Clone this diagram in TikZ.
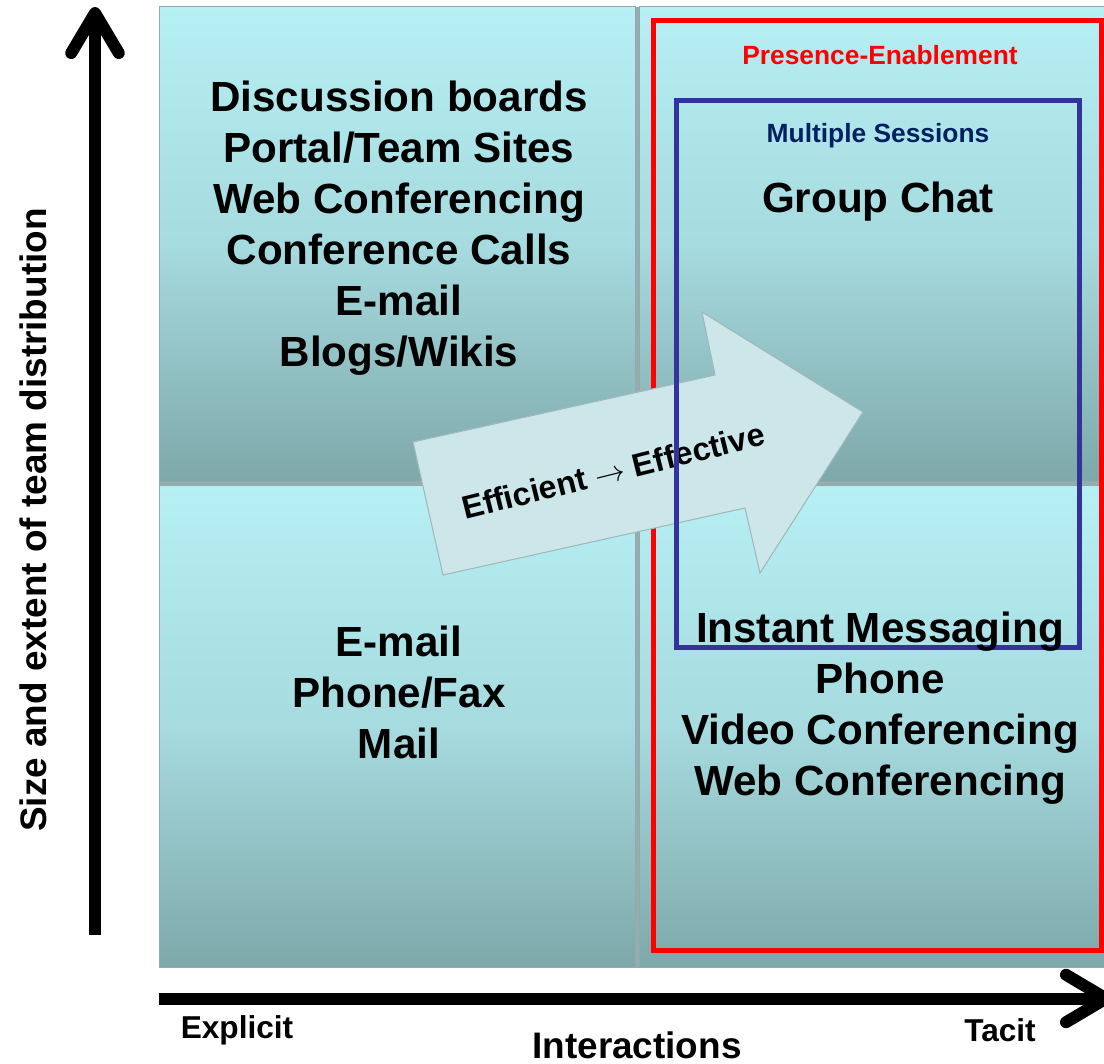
\documentclass[tikz,border=0pt]{standalone}
\usepackage{fontspec}
\setmainfont{Liberation Sans}
\usetikzlibrary{arrows.meta, positioning}
\definecolor{quadtop}{RGB}{182,239,244}
\definecolor{quadmid}{RGB}{166,219,223}
\definecolor{quadbot}{RGB}{126,168,170}
\definecolor{quadedge}{RGB}{140,172,174}
\definecolor{quadgap}{RGB}{150,172,174}
\definecolor{presred}{RGB}{255,0,0}
\definecolor{sessblue}{RGB}{51,51,153}
\definecolor{sessnavy}{RGB}{0,32,96}
\definecolor{shiftfill}{RGB}{204,230,234}
\definecolor{shiftedge}{RGB}{160,184,188}

\begin{document}
\begin{tikzpicture}[
    quad/.style={draw=quadedge, line width=0.5pt, shade, top color=quadtop, bottom color=quadbot, middle color=quadmid, minimum width=9.52cm, inner sep=0pt, anchor=south west},
    big/.style={font=\fontsize{24}{29}\selectfont\bfseries, align=center},
    small/.style={font=\fontsize{15}{18}\selectfont\bfseries},
    axislabel/.style={font=\fontsize{21}{25}\selectfont\bfseries},
    axis/.style={line width=0.24cm, -{Straight Barb[round, length=0.8cm, width=0.95cm]}}
  ]
        \useasboundingbox (0,0) rectangle (22.08,21.26);

        % Quadrants
        \fill[quadgap] (3.18,1.90) rectangle (22.3,21.12);
        \node[quad, minimum height=9.5cm] (quadTL) at (3.18,11.62) {};
        \node[quad, minimum height=9.5cm] (quadTR) at (12.78,11.62) {};
        \node[quad, minimum height=9.64cm] (quadBL) at (3.18,1.90) {};
        \node[quad, minimum height=9.64cm] (quadBR) at (12.78,1.90) {};

        % Presence frame
        \draw[presred, line width=0.1cm] (13.06,2.26) rectangle (22.02,20.84);
        \node[small, text=presred] (presence) at (17.6,20.16) {Presence-Enablement};

        % Shift arrow
        \filldraw[fill=shiftfill, draw=shiftedge, line width=0.6pt] (8.26,12.42) -- (14.30,13.76) -- (14.04,15.02) -- (17.26,13.02) -- (15.20,9.80) -- (14.90,11.10) -- (8.86,9.76) -- cycle;
        \node[font=\fontsize{18.4}{22}\selectfont\bfseries, rotate=14] (shift) at (12.26,11.84) {Efficient $\rightarrow$ Effective};

        % Sessions frame
        \draw[sessblue, line width=0.1cm] (13.52,8.32) rectangle (21.58,19.24);
        \node[small, text=sessnavy] (sessions) at (17.56,18.55) {Multiple Sessions};

        % Tools
        \node[big] (groupchat) at (17.56,17.22) {Group Chat};
        \node[big] (toolsTL) at (7.98,16.70) {Discussion boards\\Portal/Team Sites\\Web Conferencing\\Conference Calls\\E-mail\\Blogs/Wikis};
        \node[big] (toolsBL) at (7.98,7.42) {E-mail\\Phone/Fax\\Mail};
        \node[big] (toolsBR) at (17.6,7.10) {Instant Messaging\\Phone\\Video Conferencing\\Web Conferencing};

        % Axes
        \coordinate (yfoot) at (1.90,2.56);
        \coordinate (ytip) at (1.90,21.12);
        \coordinate (xfoot) at (3.18,1.29);
        \coordinate (xtip) at (22.24,1.29);
        \draw[axis] (yfoot) -- (ytip);
        \draw[axis] (xfoot) -- (xtip);

        \node[axislabel, rotate=90] (ylabel) at (0.66,10.86) {Size and extent of team distribution};
        \node[font=\fontsize{18}{22}\selectfont\bfseries] (explicit) at (4.74,0.66) {Explicit};
        \node[font=\fontsize{18}{22}\selectfont\bfseries] (tacit) at (20.0,0.66) {Tacit};
        \node[axislabel] (xlabel) at (12.74,0.36) {Interactions};
    \end{tikzpicture}
\end{document}
